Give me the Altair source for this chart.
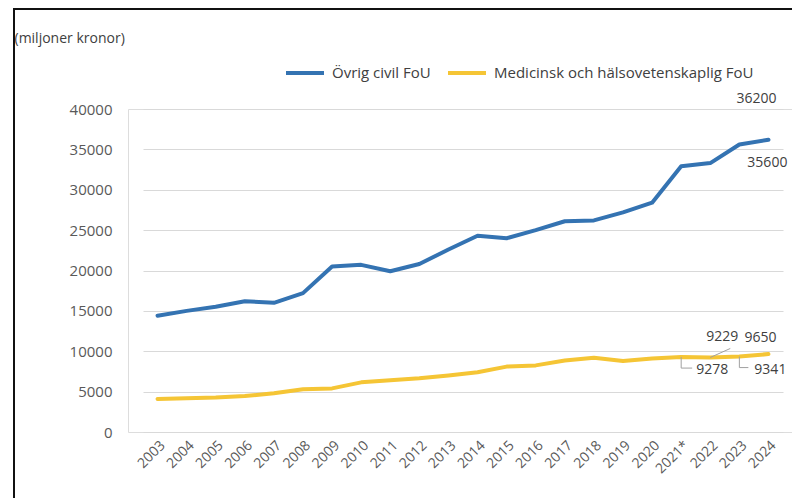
import altair as alt
import pandas as pd

years = ["2003", "2004", "2005", "2006", "2007", "2008", "2009", "2010", "2011", "2012",
         "2013", "2014", "2015", "2016", "2017", "2018", "2019", "2020", "2021*", "2022",
         "2023", "2024"]
ovrig = [14400, 15000, 15500, 16200, 16000, 17200, 20500, 20700, 19900, 20800,
         22600, 24300, 24000, 25000, 26100, 26200, 27200, 28400, 32900, 33300,
         35600, 36200]
medicinsk = [4100, 4180, 4260, 4450, 4800, 5300, 5400, 6150, 6400, 6650,
             7000, 7400, 8100, 8250, 8850, 9200, 8800, 9100, 9278, 9229,
             9341, 9650]
series_names = ["Övrig civil FoU", "Medicinsk och hälsovetenskaplig FoU"]
series_colors = ["#3473b2", "#f5c535"]

# value labels: (year, value, text, align, dx, dy)
labels_data = [
    ("2024", 36200, "36200", "right", 8, -41),
    ("2023", 35600, "35600", "left", 8, 18),
    ("2022", 9229, "9229", "left", -4, -20),
    ("2024", 9650, "9650", "right", 8, -16),
    ("2021*", 9278, "9278", "left", 15, 13),
    ("2023", 9341, "9341", "left", 15, 13),
]

rows = []
for y, a, b in zip(years, ovrig, medicinsk):
    rows.append({"year": y, "value": a, "serie": series_names[0]})
    rows.append({"year": y, "value": b, "serie": series_names[1]})
df = pd.DataFrame(rows)

FONT = "Open Sans"
xs = alt.X("year:O", sort=years, title=None,
           scale=alt.Scale(type="point", range=[15, 655]),
           axis=alt.Axis(labelAngle=-45, labelFont=FONT, labelFontSize=14,
                         labelColor="#595959", ticks=False, domain=False, grid=False,
                         labelPadding=6))
ys = alt.Y("value:Q", scale=alt.Scale(domain=[0, 40000]),
           axis=alt.Axis(values=list(range(0, 40001, 5000)), format="d", labelFont=FONT,
                         labelFontSize=15, labelColor="#595959", ticks=False,
                         domain=False, gridColor="#d9d9d9", gridWidth=1,
                         labelPadding=16, title="(miljoner kronor)", titleAngle=0,
                         titleX=-114, titleY=-71, titleAlign="left",
                         titleBaseline="middle", titleFont=FONT,
                         titleFontSize=14, titleFontWeight="normal",
                         titleColor="#404040"))

lines = alt.Chart(df).mark_line(strokeWidth=4, strokeCap="round", strokeJoin="round").encode(
    x=xs, y=ys,
    color=alt.Color("serie:N", sort=series_names,
                    scale=alt.Scale(domain=series_names, range=series_colors),
                    legend=alt.Legend(title=None, orient="none", legendX=156, legendY=-57,
                                      direction="horizontal", columns=2,
                                      symbolType="stroke", symbolSize=1444,
                                      symbolStrokeWidth=4, labelOffset=6,
                                      columnPadding=9, padding=0,
                                      labelFont=FONT, labelFontSize=15,
                                      labelColor="#404040", labelLimit=400)),
)

layers = [lines]
for (yr, val, txt, al, dx, dy) in labels_data:
    d = pd.DataFrame([{"year": yr, "value": val, "text": txt}])
    layers.append(alt.Chart(d).mark_text(align=al, baseline="middle", dx=dx, dy=dy,
                                         font=FONT, fontSize=14, color="#404040").encode(
        x=alt.X("year:O", sort=years), y="value:Q", text="text:N"))

# leader lines
leader_color = "#a0a0a0"
ldf = lambda yr, val: pd.DataFrame([{"year": yr, "value": val}])
# 2021 L-shape
layers.append(alt.Chart(ldf("2021*", 9278)).mark_rule(color=leader_color, strokeWidth=1, y2Offset=11).encode(
    x=alt.X("year:O", sort=years), y="value:Q", y2="value:Q"))
layers.append(alt.Chart(ldf("2021*", 9278)).mark_rule(color=leader_color, strokeWidth=1, yOffset=11, x2Offset=11).encode(
    x=alt.X("year:O", sort=years), x2="year:O", y="value:Q"))
# 2023 L-shape
layers.append(alt.Chart(ldf("2023", 9341)).mark_rule(color=leader_color, strokeWidth=1, y2Offset=11).encode(
    x=alt.X("year:O", sort=years), y="value:Q", y2="value:Q"))
layers.append(alt.Chart(ldf("2023", 9341)).mark_rule(color=leader_color, strokeWidth=1, yOffset=11, x2Offset=9).encode(
    x=alt.X("year:O", sort=years), x2="year:O", y="value:Q"))
# 2022 diagonal
layers.append(alt.Chart(ldf("2022", 9229)).mark_rule(color=leader_color, strokeWidth=1, x2Offset=20, y2Offset=-9).encode(
    x=alt.X("year:O", sort=years), x2="year:O", y="value:Q", y2="value:Q"))

# frame border (decoration)
layers.append(alt.Chart(ldf("2003", 0)).mark_rule(color="#111111", strokeWidth=2).encode(
    x=alt.value(-114), y=alt.value(-100), y2=alt.value(400)))
layers.append(alt.Chart(ldf("2003", 0)).mark_rule(color="#111111", strokeWidth=2).encode(
    x=alt.value(-115), x2=alt.value(664), y=alt.value(-100)))

chart = alt.layer(*layers).properties(
    width=664, height=323,
    autosize=alt.AutoSizeParams(type="none"),
    padding={"left": 120, "top": 101, "right": 0, "bottom": 66},
).configure_view(stroke=None).configure(background="white")

chart.save("out.html", embed_options={"renderer": "svg", "actions": False})
